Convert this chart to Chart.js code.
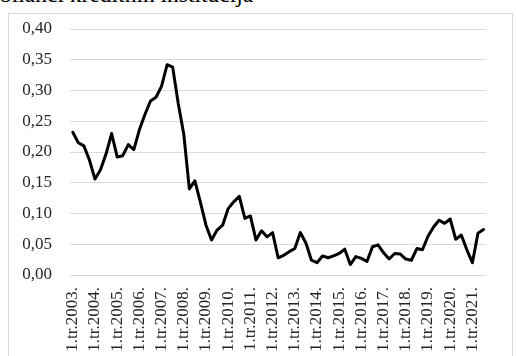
<!DOCTYPE html>
<html>
<head>
<meta charset="utf-8">
<script src="https://cdn.jsdelivr.net/npm/chart.js@4"></script>
<style>
    html, body { margin: 0; padding: 0; background: #fff; }
    #wrap { position: relative; width: 516px; height: 356px; overflow: hidden; }
    #frame {
        position: absolute; left: 8px; top: 13px; width: 505px; height: 360px;
        border: 1px solid #d9d9d9; box-sizing: border-box;
    }
    #naslov {
        position: absolute; left: 0; top: -19px; white-space: nowrap;
        font: 23.5px "Liberation Serif", "Times New Roman", serif; color: #000;
    }
    #graf { position: absolute; left: 0; top: 0; }
</style>
</head>
<body>
<div id="wrap">
    <div id="frame"></div>
    <div id="naslov">bilanci kreditnih institucija</div>
    <canvas id="graf" width="516" height="356"></canvas>
</div>
<script>
// Godine i kvartali (2003. Q1 - 2021. Q3)
const godine = [2003, 2004, 2005, 2006, 2007, 2008, 2009, 2010, 2011, 2012,
    2013, 2014, 2015, 2016, 2017, 2018, 2019, 2020, 2021];
const kvartali = ['1.tr.', '2.tr.', '3.tr.', '4.tr.'];
const zadnjiKvartal2021 = 3;

// Udio po kvartalima
const udio = [
    0.232, 0.215, 0.210, 0.187,   // 2003
    0.156, 0.171, 0.197, 0.230,   // 2004
    0.192, 0.194, 0.212, 0.204,   // 2005
    0.236, 0.261, 0.283, 0.289,   // 2006
    0.307, 0.342, 0.338, 0.279,   // 2007
    0.229, 0.140, 0.153, 0.118,   // 2008
    0.081, 0.057, 0.073, 0.081,   // 2009
    0.108, 0.119, 0.128, 0.092,   // 2010
    0.096, 0.057, 0.072, 0.062,   // 2011
    0.069, 0.028, 0.032, 0.038,   // 2012
    0.043, 0.069, 0.052, 0.024,   // 2013
    0.020, 0.031, 0.028, 0.031,   // 2014
    0.035, 0.042, 0.017, 0.030,   // 2015
    0.027, 0.022, 0.046, 0.049,   // 2016
    0.036, 0.026, 0.035, 0.034,   // 2017
    0.026, 0.024, 0.043, 0.041,   // 2018
    0.063, 0.078, 0.089, 0.084,   // 2019
    0.091, 0.058, 0.065, 0.041,   // 2020
    0.020, 0.068, 0.074           // 2021
];

const oznake = [];
godine.forEach(g => {
    const n = g === 2021 ? zadnjiKvartal2021 : 4;
    for (let q = 0; q < n; q++) {
        oznake.push(kvartali[q] + g + '.');
    }
});

const font = { family: '"Liberation Serif", "Times New Roman", serif', size: 17 };
const boja = '#262626';

new Chart(document.getElementById('graf').getContext('2d'), {
    type: 'line',
    data: {
        labels: oznake,
        datasets: [{
            data: udio,
            borderColor: '#000',
            borderWidth: 3,
            borderJoinStyle: 'round',
            borderCapStyle: 'round',
            pointRadius: 0,
            tension: 0,
            fill: false
        }]
    },
    options: {
        responsive: false,
        animation: false,
        layout: { padding: { top: 29, right: 14, left: 0, bottom: 0 } },
        plugins: {
            legend: { display: false },
            tooltip: { enabled: false }
        },
        scales: {
            x: {
                type: 'category',
                offset: true,
                grid: { display: false, drawTicks: false },
                border: { display: false },
                ticks: {
                    autoSkip: false,
                    minRotation: 90,
                    maxRotation: 90,
                    padding: 12,
                    color: boja,
                    font: font,
                    // samo prvi kvartal svake godine
                    callback: function (val, i) {
                        const t = this.getLabelForValue(val);
                        return t.startsWith('1.tr.') ? t : '';
                    }
                },
                afterFit: (scale) => { scale.height = 81; }
            },
            y: {
                min: 0,
                max: 0.4,
                grid: { color: '#d9d9d9', lineWidth: 1, drawTicks: false },
                border: { display: false },
                ticks: {
                    stepSize: 0.05,
                    padding: 18,
                    color: boja,
                    font: font,
                    callback: (v) => v.toFixed(2).replace('.', ',')
                },
                afterFit: (scale) => { scale.width = 70; }
            }
        }
    }
});
</script>
</body>
</html>
